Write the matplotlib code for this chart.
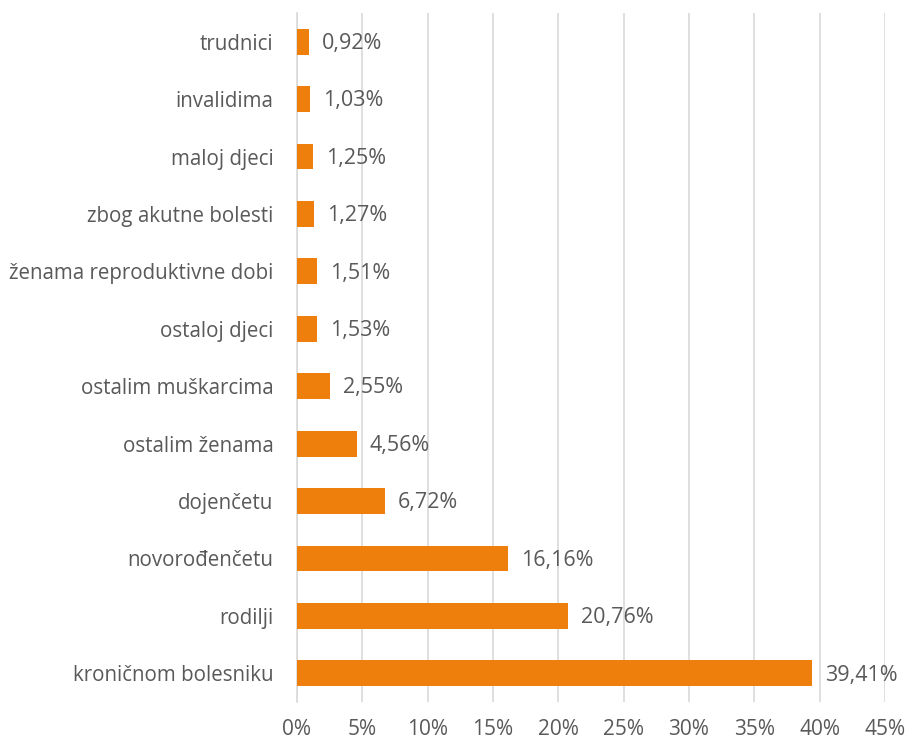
import matplotlib.pyplot as plt
from matplotlib.ticker import FuncFormatter

categories = ['kroničnom bolesniku', 'rodilji', 'novorođenčetu', 'dojenčetu',
              'ostalim ženama', 'ostalim muškarcima', 'ostaloj djeci',
              'ženama reproduktivne dobi', 'zbog akutne bolesti', 'maloj djeci',
              'invalidima', 'trudnici']
values = [39.41, 20.76, 16.16, 6.72, 4.56, 2.55, 1.53, 1.51, 1.27, 1.25, 1.03, 0.92]
xticks = [0, 5, 10, 15, 20, 25, 30, 35, 40, 45]

plt.rcParams['font.family'] = ['Open Sans', 'DejaVu Sans']
text_color = '#595959'
bar_color = '#EF7F0C'

fig = plt.figure(figsize=(9.09, 7.42), dpi=100)
ax = fig.add_axes([0.3267, 0.0539, 0.6469, 0.9286])

y = range(len(categories))
ax.barh(y, values, height=0.45, color=bar_color, zorder=3)

for i, v in enumerate(values):
    ax.text(v + 1.0, i - 0.03, f'{v:.2f}%'.replace('.', ','), va='center', ha='left',
            fontsize=15.5, color=text_color)

ax.set_xlim(0, 45)
ax.set_ylim(-0.5, len(categories) - 0.5)
ax.set_xticks(xticks)
ax.xaxis.set_major_formatter(FuncFormatter(lambda x, _: f'{x:.0f}%'))
ax.set_yticks(list(y))
ax.set_yticklabels(categories)
ax.tick_params(axis='x', length=0, labelsize=15, colors=text_color, pad=12)
ax.tick_params(axis='y', length=0, labelsize=14.8, colors=text_color, pad=17)

ax.grid(axis='x', color='#D9D9D9', linewidth=1.2, zorder=0)
for s in ['top', 'right', 'bottom']:
    ax.spines[s].set_visible(False)
ax.spines['left'].set_color('#D9D9D9')
ax.spines['left'].set_linewidth(1.2)

fig.savefig('out.png', dpi=100)
